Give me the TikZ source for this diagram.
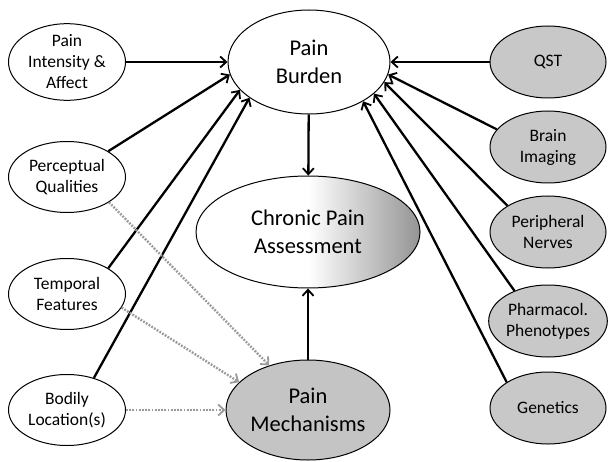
\documentclass[tikz,border=0pt]{standalone}
\usepackage{fontspec}
\setmainfont{Carlito}
\usetikzlibrary{arrows.meta,shapes.geometric}
\definecolor{measF}{HTML}{C8C8C8}
\definecolor{mechF}{HTML}{C4C4C4}
\definecolor{dotC}{HTML}{9A9A9A}
\pgfdeclarehorizontalshading{halfgrey}{100bp}{color(0bp)=(white); color(50bp)=(white); color(75bp)=(black!42); color(100bp)=(black!42)}
\tikzset{
  oval/.style={ellipse, draw, line width=1pt, align=center, inner sep=0pt},
  side/.style={oval, minimum width=117pt, minimum height=71pt, font=\fontsize{17.5}{21}\selectfont},
  meas/.style={oval, fill=measF, minimum width=116pt, minimum height=72pt, font=\fontsize{17.5}{21}\selectfont},
  big/.style={oval, font=\fontsize{22.5}{27.5}\selectfont},
  arr/.style={-{Straight Barb[length=6pt,width=11pt,line width=1.8pt]}, line width=2.3pt},
  dots/.style={-{Straight Barb[length=6pt,width=11pt,line width=1.8pt]}, draw=dotC, dash pattern=on 1.8pt off 1.4pt, line width=2.4pt},
}
\begin{document}
\begin{tikzpicture}[x=1pt,y=-1pt]
\useasboundingbox (0,0) rectangle (609,462);
\node[side] (intens) at (67,62) {Pain\\Intensity \&\\Affect};
\node[side] (percep) at (67,177) {Perceptual\\Qualities};
\node[side] (tempo) at (67,294) {Temporal\\Features};
\node[side] (bodily) at (67,410) {Bodily\\Location(s)};
\node[big, minimum width=162pt, minimum height=104pt] (burden) at (309,62) {Pain\\Burden};
\node[big, minimum width=224pt, minimum height=112pt, shading=halfgrey] (assess) at (308,232) {Chronic Pain\\Assessment};
\node[big, fill=mechF, minimum width=164pt, minimum height=100pt] (mech) at (308,410) {Pain\\Mechanisms};
\node[meas] (qst) at (548,62) {QST};
\node[meas] (brain) at (548,147) {Brain\\Imaging};
\node[meas] (periph) at (548,232) {Peripheral\\Nerves};
\node[meas] (pharm) at (548,321) {Pharmacol.\\Phenotypes};
\node[meas] (genet) at (548,408) {Genetics};
\draw[arr] (intens) -- (burden.180);
\draw[arr] (percep.32) -- (burden.189);
\draw[arr] (tempo.32) -- (burden.202);
\draw[arr] (bodily.50) -- (burden.211);
\draw[arr] (qst) -- (burden.0);
\draw[arr] (brain.161) -- (burden.351);
\draw[arr] (periph.147) -- (burden.345);
\draw[arr] (pharm.138) -- (burden.334);
\draw[arr] (genet.148) -- (burden.324);
\draw[arr] (burden) -- (assess);
\draw[arr] (mech) -- (assess);
\draw[dots] (percep.329) -- (mech.131);
\draw[dots] (tempo.346) -- (mech.158);
\draw[dots] (bodily) -- (mech);
\end{tikzpicture}
\end{document}
